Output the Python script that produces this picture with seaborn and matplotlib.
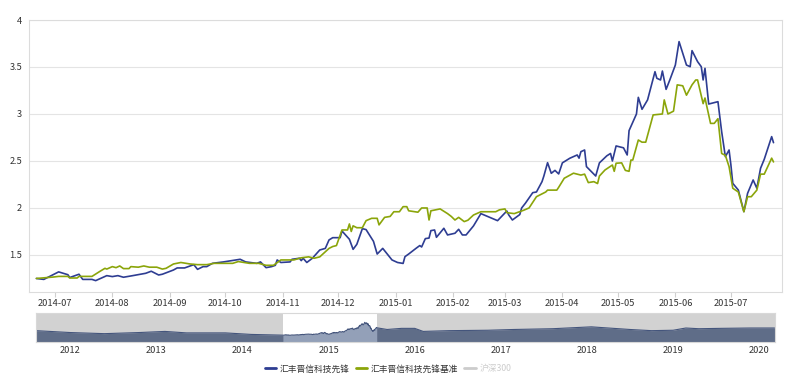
import pandas as pd
import matplotlib
matplotlib.use("Agg")
import matplotlib.pyplot as plt
from matplotlib.lines import Line2D
import seaborn as sns

fund_name = "汇丰晋信科技先锋"
bench_name = "汇丰晋信科技先锋基准"
index_name = "沪深300"

fund_dates = [
    "2014-06-21", "2014-06-25", "2014-07-03", "2014-07-08", "2014-07-09", "2014-07-14",
    "2014-07-16", "2014-07-21", "2014-07-23", "2014-07-29", "2014-08-01", "2014-08-04",
    "2014-08-07", "2014-08-12", "2014-08-19", "2014-08-22", "2014-08-26", "2014-08-28",
    "2014-09-03", "2014-09-05", "2014-09-09", "2014-09-14", "2014-09-16", "2014-09-19",
    "2014-09-21", "2014-09-24", "2014-09-30", "2014-10-09", "2014-10-12", "2014-10-18",
    "2014-10-20", "2014-10-23", "2014-10-26", "2014-10-28", "2014-10-29", "2014-10-31",
    "2014-11-05", "2014-11-06", "2014-11-10", "2014-11-11", "2014-11-12", "2014-11-14",
    "2014-11-17", "2014-11-21", "2014-11-24", "2014-11-26", "2014-11-28", "2014-12-02",
    "2014-12-03", "2014-12-07", "2014-12-09", "2014-12-11", "2014-12-14", "2014-12-16",
    "2014-12-20", "2014-12-22", "2014-12-25", "2014-12-30", "2015-01-02", "2015-01-05",
    "2015-01-06", "2015-01-08", "2015-01-12", "2015-01-14", "2015-01-15", "2015-01-17",
    "2015-01-19", "2015-01-20", "2015-01-22", "2015-01-23", "2015-01-27", "2015-01-29",
    "2015-02-02", "2015-02-04", "2015-02-06", "2015-02-08", "2015-02-12", "2015-02-16",
    "2015-02-25", "2015-03-02", "2015-03-03", "2015-03-05", "2015-03-09", "2015-03-10",
    "2015-03-12", "2015-03-16", "2015-03-18", "2015-03-21", "2015-03-22", "2015-03-24",
    "2015-03-26", "2015-03-28", "2015-03-30", "2015-04-01", "2015-04-05", "2015-04-09",
    "2015-04-10", "2015-04-11", "2015-04-13", "2015-04-14", "2015-04-16", "2015-04-19",
    "2015-04-21", "2015-04-25", "2015-04-27", "2015-04-28", "2015-04-30", "2015-05-04",
    "2015-05-06", "2015-05-07", "2015-05-11", "2015-05-12", "2015-05-14", "2015-05-17",
    "2015-05-21", "2015-05-22", "2015-05-24", "2015-05-25", "2015-05-27", "2015-05-29",
    "2015-06-01", "2015-06-03", "2015-06-07", "2015-06-09", "2015-06-10", "2015-06-13",
    "2015-06-15", "2015-06-16", "2015-06-17", "2015-06-19", "2015-06-24", "2015-06-26",
    "2015-06-28", "2015-06-30", "2015-07-01", "2015-07-02", "2015-07-05", "2015-07-08",
    "2015-07-10", "2015-07-13", "2015-07-15", "2015-07-17", "2015-07-19", "2015-07-23",
    "2015-07-24",
]
fund_values = [
    1.25, 1.24, 1.32, 1.29, 1.26, 1.295,
    1.24, 1.24, 1.227, 1.28, 1.27, 1.28,
    1.263, 1.28, 1.305, 1.327, 1.287, 1.295,
    1.34, 1.362, 1.362, 1.397, 1.347, 1.376,
    1.376, 1.411, 1.426, 1.454, 1.426, 1.411,
    1.426, 1.365, 1.376, 1.39, 1.447, 1.42,
    1.426, 1.454, 1.465, 1.44, 1.465, 1.42,
    1.465, 1.553, 1.57, 1.66, 1.684, 1.684,
    1.755, 1.667, 1.56, 1.613, 1.78, 1.77,
    1.645, 1.51, 1.57, 1.447, 1.42, 1.41,
    1.482, 1.51, 1.571, 1.6, 1.585, 1.674,
    1.68, 1.759, 1.766, 1.688, 1.784, 1.713,
    1.731, 1.773, 1.713, 1.713, 1.809, 1.94,
    1.865, 1.968, 1.927, 1.872, 1.93, 2.0,
    2.05, 2.163, 2.17, 2.28, 2.34, 2.482,
    2.369, 2.40, 2.362, 2.48, 2.529, 2.564,
    2.53, 2.599, 2.617, 2.44, 2.40, 2.34,
    2.48, 2.555, 2.58, 2.5, 2.66, 2.64,
    2.564, 2.823, 3.0, 3.177, 3.05, 3.15,
    3.45, 3.38, 3.362, 3.457, 3.262, 3.362,
    3.521, 3.77, 3.521, 3.503, 3.674, 3.557,
    3.503, 3.362, 3.486, 3.106, 3.131, 2.812,
    2.546, 2.617, 2.457, 2.262, 2.191, 1.961,
    2.156, 2.298, 2.21, 2.422, 2.518, 2.759,
    2.695,
]

bench_dates = [
    "2014-06-21", "2014-06-30", "2014-07-03", "2014-07-08", "2014-07-09", "2014-07-13",
    "2014-07-14", "2014-07-21", "2014-07-25", "2014-07-28", "2014-07-29", "2014-08-01",
    "2014-08-03", "2014-08-05", "2014-08-07", "2014-08-10", "2014-08-11", "2014-08-15",
    "2014-08-18", "2014-08-21", "2014-08-25", "2014-08-28", "2014-08-30", "2014-09-03",
    "2014-09-07", "2014-09-12", "2014-09-16", "2014-09-21", "2014-09-25", "2014-10-05",
    "2014-10-08", "2014-10-14", "2014-10-19", "2014-10-23", "2014-10-27", "2014-10-31",
    "2014-11-07", "2014-11-11", "2014-11-15", "2014-11-18", "2014-11-21", "2014-11-26",
    "2014-11-28", "2014-11-30", "2014-12-03", "2014-12-06", "2014-12-07", "2014-12-08",
    "2014-12-09", "2014-12-11", "2014-12-14", "2014-12-16", "2014-12-19", "2014-12-22",
    "2014-12-23", "2014-12-26", "2014-12-29", "2014-12-31", "2015-01-03", "2015-01-05",
    "2015-01-07", "2015-01-08", "2015-01-13", "2015-01-15", "2015-01-18", "2015-01-19",
    "2015-01-20", "2015-01-25", "2015-01-29", "2015-01-31", "2015-02-02", "2015-02-04",
    "2015-02-07", "2015-02-09", "2015-02-12", "2015-02-16", "2015-02-24", "2015-02-26",
    "2015-03-01", "2015-03-02", "2015-03-06", "2015-03-11", "2015-03-14", "2015-03-18",
    "2015-03-21", "2015-03-23", "2015-03-24", "2015-03-29", "2015-03-30", "2015-04-02",
    "2015-04-07", "2015-04-09", "2015-04-11", "2015-04-13", "2015-04-15", "2015-04-18",
    "2015-04-20", "2015-04-21", "2015-04-24", "2015-04-28", "2015-04-29", "2015-04-30",
    "2015-05-03", "2015-05-05", "2015-05-07", "2015-05-08", "2015-05-09", "2015-05-12",
    "2015-05-14", "2015-05-16", "2015-05-20", "2015-05-25", "2015-05-26", "2015-05-28",
    "2015-05-31", "2015-06-02", "2015-06-05", "2015-06-07", "2015-06-10", "2015-06-12",
    "2015-06-13", "2015-06-16", "2015-06-17", "2015-06-20", "2015-06-22", "2015-06-24",
    "2015-06-26", "2015-06-28", "2015-06-30", "2015-07-02", "2015-07-05", "2015-07-08",
    "2015-07-10", "2015-07-12", "2015-07-15", "2015-07-17", "2015-07-19", "2015-07-23",
    "2015-07-24",
]
bench_values = [
    1.25, 1.265, 1.272, 1.272, 1.255, 1.255,
    1.272, 1.272, 1.322, 1.358, 1.35, 1.376,
    1.365, 1.383, 1.355, 1.355, 1.376, 1.37,
    1.383, 1.37, 1.37, 1.35, 1.358, 1.404,
    1.42, 1.404, 1.397, 1.397, 1.411, 1.411,
    1.43, 1.411, 1.411, 1.39, 1.39, 1.447,
    1.447, 1.47, 1.48, 1.465, 1.48, 1.57,
    1.59, 1.6, 1.766, 1.766, 1.83, 1.75,
    1.81, 1.79, 1.79, 1.865, 1.89, 1.89,
    1.82, 1.9, 1.91, 1.96, 1.96, 2.014,
    2.014, 1.97, 1.955, 2.0, 2.0, 1.872,
    1.97, 1.99, 1.94, 1.91, 1.872, 1.9,
    1.855, 1.87, 1.925, 1.96, 1.96, 1.98,
    1.99, 1.95, 1.94, 1.975, 2.0, 2.12,
    2.15, 2.17, 2.19, 2.19, 2.22, 2.316,
    2.37, 2.36, 2.35, 2.36, 2.27, 2.28,
    2.26, 2.34, 2.404, 2.457, 2.39, 2.476,
    2.48, 2.40, 2.39, 2.51, 2.51, 2.723,
    2.70, 2.70, 2.99, 3.0, 3.15, 3.0,
    3.03, 3.31, 3.30, 3.20, 3.31, 3.362,
    3.362, 3.11, 3.17, 2.90, 2.90, 2.95,
    2.58, 2.56, 2.44, 2.21, 2.17, 1.96,
    2.12, 2.12, 2.19, 2.36, 2.36, 2.53,
    2.49,
]

# overview strip under the chart (whole history of the fund)
history_before_dates = ["2011-08-09", "2012-01-01", "2012-05-25", "2012-10-20", "2013-02-06",
                        "2013-05-08", "2013-10-20", "2014-02-06", "2014-05-01"]
history_before_values = [2.13, 1.76, 1.54, 1.76, 1.98, 1.69, 1.69, 1.39, 1.30]
history_after_dates = ["2015-09-06", "2015-11-06", "2016-01-01", "2016-02-06", "2016-05-25",
                       "2016-11-06", "2017-02-24", "2017-08-08", "2018-01-19", "2018-04-20",
                       "2018-07-02", "2018-10-01", "2019-01-01", "2019-02-24", "2019-04-20",
                       "2019-07-20", "2019-11-24", "2020-03-06"]
history_after_values = [2.36, 2.58, 2.58, 1.98, 2.13, 2.21, 2.36, 2.51, 2.88, 2.58,
                        2.36, 2.13, 2.21, 2.65, 2.51, 2.58, 2.65, 2.65]

month_ticks = pd.date_range("2014-07-01", "2015-07-01", freq="MS")
year_ticks = pd.date_range("2012-01-01", "2020-01-01", freq="YS")

blue = "#2e3d92"
green = "#8ba50a"
grey_legend = "#cccccc"
grid_col = "#e4e4e4"
text_col = "#333333"

sns.set_theme(style="white")
plt.rcParams['font.family'] = ['Noto Sans CJK SC', 'DejaVu Sans']

W, H = 800, 383
fig = plt.figure(figsize=(W / 100, H / 100), dpi=100)

# main chart
ax = fig.add_axes([29 / W, 1 - 292 / H, 753 / W, 272 / H])
df = pd.concat([
    pd.DataFrame({"date": pd.to_datetime(fund_dates), "nav": fund_values, "series": fund_name}),
    pd.DataFrame({"date": pd.to_datetime(bench_dates), "nav": bench_values, "series": bench_name}),
], ignore_index=True)
sns.lineplot(data=df, x="date", y="nav", hue="series", hue_order=[fund_name, bench_name],
             palette={fund_name: blue, bench_name: green}, estimator=None, sort=True,
             linewidth=1.2, legend=False, ax=ax)

ax.set_xlim(pd.Timestamp("2014-06-17"), pd.Timestamp("2015-07-28 14:00"))
ax.set_ylim(1.106, 4.0)
ax.set_yticks([1.5, 2, 2.5, 3, 3.5, 4])
ax.set_yticklabels(["1.5", "2", "2.5", "3", "3.5", "4"])
ax.set_xticks(month_ticks)
ax.set_xticklabels([d.strftime("%Y-%m") for d in month_ticks])
ax.yaxis.grid(True, color=grid_col, linewidth=0.8)
ax.xaxis.grid(False)
ax.set_xlabel("")
ax.set_ylabel("")
for s in ax.spines.values():
    s.set_color("#dcdcdc")
    s.set_linewidth(0.8)
ax.tick_params(axis="x", length=3.5, width=0.8, color="#d0d0d0", labelsize=6.7,
               labelcolor=text_col, pad=1.5, bottom=True)
ax.tick_params(axis="y", length=0, labelsize=6.7, labelcolor=text_col, pad=5)

# zoom slider strip
ax2 = fig.add_axes([36 / W, 1 - 342 / H, 739 / W, 29 / H])
hist_dates = pd.to_datetime(history_before_dates + fund_dates + history_after_dates)
hist_values = history_before_values + fund_values + history_after_values
hist = pd.DataFrame({"date": hist_dates, "nav": hist_values})
x0, x1 = pd.Timestamp("2011-08-09"), pd.Timestamp("2020-03-08")
win0, win1 = pd.Timestamp(fund_dates[0]), pd.Timestamp(fund_dates[-1])
y0 = -0.1
ax2.set_xlim(x0, x1)
ax2.set_ylim(y0, 5.6)
ax2.axvspan(x0, win0, color="#d2d2d2", zorder=0, lw=0)
ax2.axvspan(win1, x1, color="#d2d2d2", zorder=0, lw=0)
ax2.fill_between(hist["date"], hist["nav"], y0, color="#5f6d88", lw=0, zorder=1)
inside = (hist["date"] >= win0) & (hist["date"] <= win1)
ax2.fill_between(hist["date"][inside], hist["nav"][inside], y0, color="#93a0b8", lw=0, zorder=1.5)
sns.lineplot(data=hist, x="date", y="nav", color="#44557c", linewidth=0.8, ax=ax2, zorder=2)
ax2.set_yticks([])
ax2.set_xticks(year_ticks)
ax2.set_xticklabels([d.strftime("%Y") for d in year_ticks])
ax2.set_xlabel("")
ax2.set_ylabel("")
ax2.tick_params(axis="x", length=0, labelsize=6.7, labelcolor=text_col, pad=3)
for s in ax2.spines.values():
    s.set_color("#d8d8d8")
    s.set_linewidth(0.8)

# legend
handles = [Line2D([], [], color=blue, lw=2), Line2D([], [], color=green, lw=2),
           Line2D([], [], color=grey_legend, lw=2)]
leg = fig.legend(handles, [fund_name, bench_name, index_name], loc="center",
                 bbox_to_anchor=(388 / W, 1 - 369 / H), ncol=3, frameon=False, fontsize=6.3,
                 handlelength=1.3, handletextpad=0.4, columnspacing=0.7)
for t, c in zip(leg.get_texts(), [text_col, text_col, grey_legend]):
    t.set_color(c)

fig.savefig("out.png", dpi=100)
